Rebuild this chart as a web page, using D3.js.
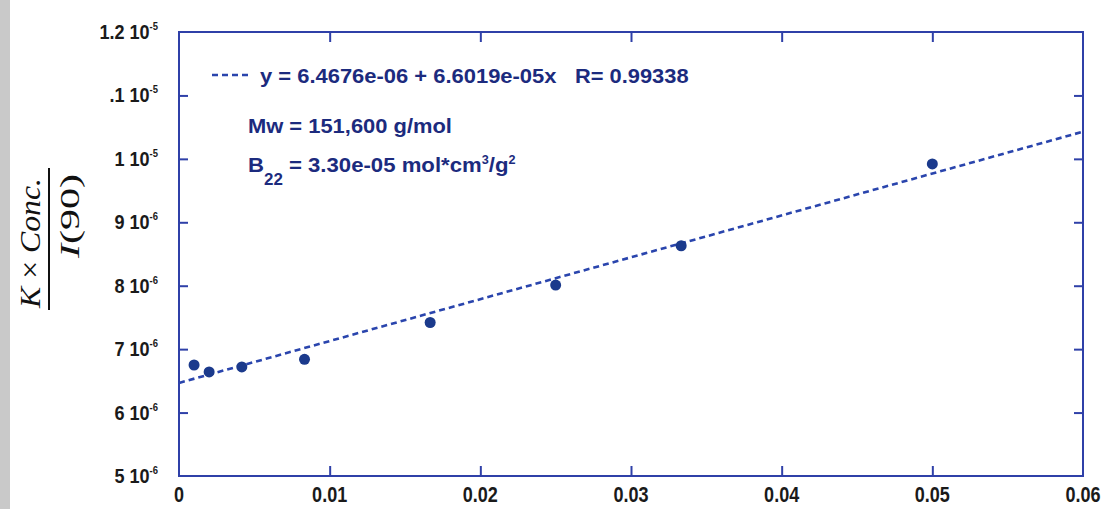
<!DOCTYPE html>
<html>
<head>
<meta charset="utf-8">
<style>
  html, body { margin: 0; padding: 0; background: #fff; }
  svg { display: block; }
</style>
</head>
<body>
<svg id="chart" width="1101" height="509"></svg>
<script src="https://d3js.org/d3.v7.min.js"></script>
<script>
// data
var concentration = [0.001, 0.002, 0.00417, 0.00833, 0.01667, 0.025, 0.03333, 0.05];
var kcOverI = [6.75e-6, 6.64e-6, 6.72e-6, 6.84e-6, 7.42e-6, 8.01e-6, 8.63e-6, 9.92e-6];

// linear fit given on the chart
var fitIntercept = 6.4676e-6;
var fitSlope = 6.6019e-5;

var xTicks = [0, 0.01, 0.02, 0.03, 0.04, 0.05, 0.06];
var xTickLabels = ["0", "0.01", "0.02", "0.03", "0.04", "0.05", "0.06"];
var yTicks = [5e-6, 6e-6, 7e-6, 8e-6, 9e-6, 1e-5, 1.1e-5, 1.2e-5];
var yTickMain = ["5 10", "6 10", "7 10", "8 10", "9 10", "1 10", ".1 10", "1.2 10"];
var yTickExp = ["-6", "-6", "-6", "-6", "-6", "-5", "-5", "-5"];

var svg = d3.select("#chart");
var axisColor = "#2f40a8";
var textBlue = "#1c2b7e";

var x = d3.scaleLinear().domain([0, 0.06]).range([179, 1083]);
var y = d3.scaleLinear().domain([5e-6, 1.2e-5]).range([476, 32]);

// grey strip on the left edge
svg.append("rect").attr("x", 0).attr("y", 0).attr("width", 10).attr("height", 509).attr("fill", "#c9c9c9");

// frame
var frame = svg.append("g");
frame.append("rect")
	.attr("x", x(0)).attr("y", y(1.2e-5))
	.attr("width", x(0.06) - x(0)).attr("height", y(5e-6) - y(1.2e-5))
	.attr("fill", "none").attr("stroke", axisColor).attr("stroke-width", 2);

// inner ticks on all four sides
var xAxisB = d3.axisBottom(x).tickValues(xTicks.slice(1, -1)).tickSizeInner(-10).tickSizeOuter(0).tickFormat("");
var xAxisT = d3.axisTop(x).tickValues(xTicks.slice(1, -1)).tickSizeInner(-10).tickSizeOuter(0).tickFormat("");
var yAxisL = d3.axisLeft(y).tickValues(yTicks.slice(1, -1)).tickSizeInner(-9).tickSizeOuter(0).tickFormat("");
var yAxisR = d3.axisRight(y).tickValues(yTicks.slice(1, -1)).tickSizeInner(-9).tickSizeOuter(0).tickFormat("");
[[xAxisB, "translate(0," + y(5e-6) + ")"], [xAxisT, "translate(0," + y(1.2e-5) + ")"],
 [yAxisL, "translate(" + x(0) + ",0)"], [yAxisR, "translate(" + x(0.06) + ",0)"]].forEach(function(a){
	var g = svg.append("g").attr("transform", a[1]).call(a[0]);
	g.select(".domain").remove();
	g.selectAll("line").attr("stroke", axisColor).attr("stroke-width", 2);
});

// x tick labels
xTicks.forEach(function(v, i){
	var g = svg.append("g");
	var cx = x(v);
	g.append("text").attr("x", cx).attr("y", 502)
		.attr("text-anchor", "middle")
		.attr("font-family", "Liberation Sans, Arial, sans-serif")
		.attr("font-weight", "bold").attr("font-size", 22).attr("fill", "#1a1a1a")
		.text(xTickLabels[i]);
	var s = 0.82;
	g.attr("transform", "translate(" + cx * (1 - s) + ",0) scale(" + s + ",1)");
});

// y tick labels with exponent
yTicks.forEach(function(v, i){
	var g = svg.append("g");
	var ty = y(v) + 7;
	var t = g.append("text").attr("x", 158).attr("y", ty)
		.attr("text-anchor", "end")
		.attr("font-family", "Liberation Sans, Arial, sans-serif")
		.attr("font-weight", "bold").attr("font-size", 21).attr("fill", "#1a1a1a");
	t.append("tspan").text(yTickMain[i]);
	t.append("tspan").attr("dy", -9).attr("font-size", 11).text(yTickExp[i]);
	var s = 0.86;
	g.attr("transform", "translate(" + 158 * (1 - s) + ",0) scale(" + s + ",1)");
});

// fit line
var line = d3.line().x(function(d){ return x(d); }).y(function(d){ return y(fitIntercept + fitSlope * d); });
svg.append("path")
	.attr("d", line([0, 0.06]))
	.attr("fill", "none").attr("stroke", "#2a45ad").attr("stroke-width", 2.6)
	.attr("stroke-dasharray", "6,4");

// data points
svg.append("g").selectAll("circle")
	.data(concentration)
	.enter().append("circle")
	.attr("cx", function(d){ return x(d); })
	.attr("cy", function(d, i){ return y(kcOverI[i]); })
	.attr("r", 5.5)
	.attr("fill", "#1b3a8c");

// annotation
svg.append("line")
	.attr("x1", 212).attr("x2", 250).attr("y1", 75).attr("y2", 75)
	.attr("stroke", "#2a45ad").attr("stroke-width", 2.4).attr("stroke-dasharray", "6,4");

function note(str, x0, y0, width) {
	var g = svg.append("g");
	var t = g.append("text").attr("x", x0).attr("y", y0)
		.attr("font-family", "Liberation Sans, Arial, sans-serif")
		.attr("font-weight", "bold").attr("font-size", 21).attr("fill", textBlue);
	if (typeof str == "string") t.text(str); else str(t);
	var w = t.node().getBBox().width;
	var s = width / w;
	g.attr("transform", "translate(" + x0 * (1 - s) + ",0) scale(" + s + ",1)");
	return t;
}
note("y = 6.4676e-06 + 6.6019e-05x", 260, 83, 297);
note("R= 0.99338", 575, 83, 114);
note("Mw = 151,600 g/mol", 248, 133, 204);
note(function(t){
	t.append("tspan").text("B");
	t.append("tspan").attr("dy", 13).attr("font-size", 16).text("22");
	t.append("tspan").attr("dy", -13).text(" = 3.30e-05 mol*cm");
	t.append("tspan").attr("dy", -8).attr("font-size", 12).text("3");
	t.append("tspan").attr("dy", 8).text("/g");
	t.append("tspan").attr("dy", -8).attr("font-size", 12).text("2");
}, 248, 172, 268);

// y axis title as a rotated fraction
var yt = svg.append("g");
yt.append("line").attr("x1", 49).attr("x2", 49).attr("y1", 168).attr("y2", 310)
	.attr("stroke", "#111").attr("stroke-width", 2);
var num = yt.append("text")
	.attr("transform", "translate(40,243) rotate(-90)")
	.attr("text-anchor", "middle")
	.attr("font-family", "Liberation Serif, Times New Roman, serif")
	.attr("font-size", 29).attr("fill", "#111")
	.attr("textLength", 130).attr("lengthAdjust", "spacingAndGlyphs");
num.append("tspan").attr("font-style", "italic").text("K");
num.append("tspan").text(" × ");
num.append("tspan").attr("font-style", "italic").text("Conc.");
var den = yt.append("text")
	.attr("transform", "translate(79,216) rotate(-90)")
	.attr("text-anchor", "middle")
	.attr("font-family", "Liberation Serif, Times New Roman, serif")
	.attr("font-size", 27).attr("fill", "#111")
	.attr("textLength", 84).attr("lengthAdjust", "spacingAndGlyphs");
den.append("tspan").attr("font-style", "italic").text("I");
den.append("tspan").text("(90)");
</script>
</body>
</html>
